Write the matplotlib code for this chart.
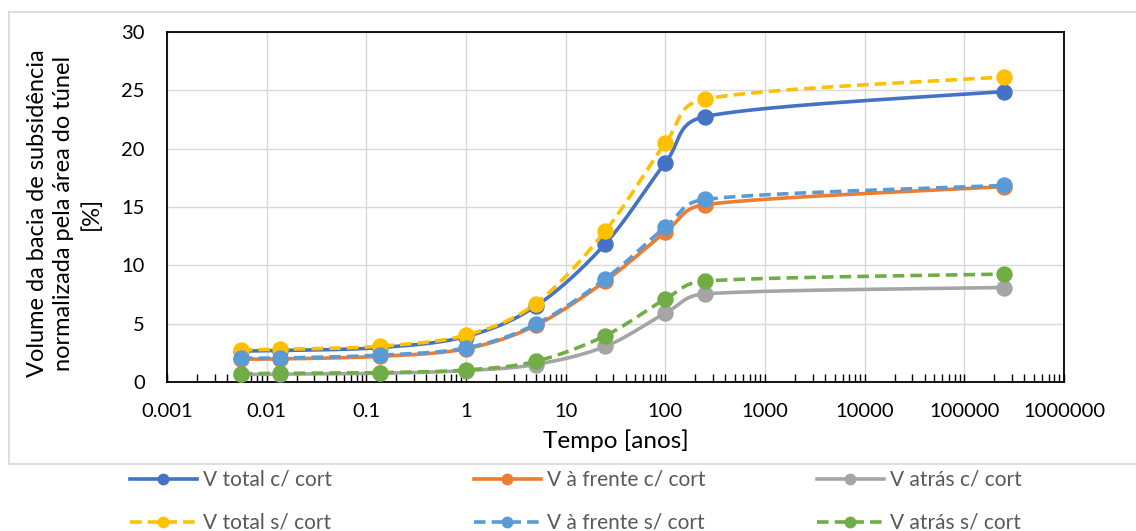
import numpy as np
import matplotlib.pyplot as plt
from matplotlib.lines import Line2D
from matplotlib.ticker import FixedLocator, LogLocator, NullFormatter

plt.rcParams['font.family'] = ['Lato', 'DejaVu Sans']

# tempo em anos (2 d, 5 d, 50 d, 1 a, 5 a, 25 a, 100 a, 250 a, 250000 a)
tempo = [0.0055, 0.0137, 0.137, 1, 5, 25, 100, 250, 250000]

v_total_c = [2.65, 2.7, 2.95, 3.9, 6.5, 11.85, 18.8, 22.75, 24.9]
v_frente_c = [1.97, 1.98, 2.2, 2.85, 4.85, 8.65, 12.85, 15.2, 16.75]
v_atras_c = [0.65, 0.68, 0.75, 0.98, 1.5, 3.05, 5.9, 7.55, 8.1]
v_total_s = [2.78, 2.8, 3.07, 4.02, 6.72, 12.95, 20.48, 24.25, 26.15]
v_frente_s = [2.05, 2.06, 2.3, 2.92, 4.95, 8.85, 13.28, 15.65, 16.85]
v_atras_s = [0.72, 0.74, 0.8, 1.03, 1.77, 3.97, 7.12, 8.65, 9.25]

nomes = ['V total c/ cort', 'V à frente c/ cort', 'V atrás c/ cort',
         'V total s/ cort', 'V à frente s/ cort', 'V atrás s/ cort']
cores = ['#4472C4', '#ED7D31', '#A5A5A5', '#FFC000', '#5B9BD5', '#70AD47']
estilos = ['-', '-', '-', '--', '--', '--']
series = [v_total_c, v_frente_c, v_atras_c, v_total_s, v_frente_s, v_atras_s]

TRACO = (0, (3.2, 1.7))
LW = 2.6

# escala em px usada para suavizar a curva (100 px por década, 350 px para 30 %)
SX, SY = 100.0, 350.0 / 30.0


def suavizar(xs, ys, n=40):
    """Curva de Bezier do tipo Excel passando pelos pontos (x em log)."""
    p = np.column_stack([np.log10(xs) * SX, np.array(ys) * SY])
    m = len(p)
    tang = []
    for i in range(m):
        a = p[max(i - 1, 0)]
        b = p[min(i + 1, m - 1)]
        tang.append((b - a) / 6.0)
    out = []
    for i in range(m - 1):
        p0, p3 = p[i], p[i + 1]
        d = np.hypot(*(p3 - p0))
        t0, t1 = tang[i], tang[i + 1]
        l0, l1 = np.hypot(*t0), np.hypot(*t1)
        if l0 > d / 2:
            t0 = t0 * (d / 2) / l0
        if l1 > d / 2:
            t1 = t1 * (d / 2) / l1
        p1 = p0 + t0
        p2 = p3 - t1
        t = np.linspace(0, 1, n)[:, None]
        seg = ((1 - t) ** 3 * p0 + 3 * (1 - t) ** 2 * t * p1
               + 3 * (1 - t) * t ** 2 * p2 + t ** 3 * p3)
        out.append(seg if i == 0 else seg[1:])
    c = np.vstack(out)
    return 10 ** (c[:, 0] / SX), c[:, 1] / SY


fig = plt.figure(figsize=(11.36, 5.31), dpi=100)
ax = fig.add_axes([167 / 1136, 1 - 382 / 531, (1064 - 167) / 1136, 350 / 531])

for k, (ys, cor, ls) in enumerate(zip(series, cores, estilos)):
    cx, cy = suavizar(tempo, ys)
    if ls == '--':
        ax.plot(cx, cy, color=cor, lw=LW, ls=TRACO, zorder=3 + k,
                dash_capstyle='butt')
    else:
        ax.plot(cx, cy, color=cor, lw=LW, zorder=3 + k)
    ax.plot(tempo, ys, 'o', color=cor, ms=10.8, mec=cor, zorder=3 + k)

ax.set_xscale('log')
ax.set_xlim(0.001, 1000000)
ax.set_ylim(0, 30)
ax.set_yticks(range(0, 31, 5))
ax.xaxis.set_major_locator(FixedLocator([10.0 ** e for e in range(-3, 7)]))
ax.xaxis.set_minor_locator(LogLocator(base=10, subs=np.arange(2, 10), numticks=20))
ax.xaxis.set_minor_formatter(NullFormatter())
ax.set_xticklabels(['0.001', '0.01', '0.1', '1', '10', '100', '1000',
                    '10000', '100000', '1000000'])

ax.grid(True, which='major', color='#D9D9D9', lw=1.0, zorder=0)
ax.set_axisbelow(True)
for s in ax.spines.values():
    s.set_color('black')
    s.set_linewidth(1.3)

ax.tick_params(axis='x', which='major', direction='in', length=6, width=1.0,
               pad=15, labelsize=14.5, colors='black')
ax.tick_params(axis='x', which='minor', direction='in', length=6, width=1.0,
               colors='black')
ax.tick_params(axis='y', which='both', length=0, pad=16, labelsize=14.5,
               colors='black')

ax.set_xlabel('Tempo [anos]', fontsize=17.5, labelpad=7)
ax.set_ylabel('Volume da bacia de subsidência\nnormalizada pela área do túnel\n[%]',
              fontsize=17, linespacing=1.32)
ax.yaxis.set_label_coords(-0.073, 0.483)

# moldura da área do gráfico
borda = dict(color='#D9D9D9', lw=1.2, transform=fig.transFigure)
fig.add_artist(Line2D([9 / 1136, 1.01], [1 - 12 / 531, 1 - 12 / 531], **borda))
fig.add_artist(Line2D([9 / 1136, 9 / 1136], [1 - 12 / 531, 1 - 464 / 531], **borda))
fig.add_artist(Line2D([9 / 1136, 1.01], [1 - 464 / 531, 1 - 464 / 531], **borda))

# legenda em três colunas, duas linhas
colunas = [(0, 3), (1, 4), (2, 5)]
x_col = [130, 474, 817]
for (a, b), xc in zip(colunas, x_col):
    hs = []
    for k in (a, b):
        ls = TRACO if estilos[k] == '--' else '-'
        hs.append(Line2D([], [], color=cores[k], lw=LW, ls=ls, marker='o',
                         ms=7.5, label=nomes[k]))
    fig.legend(handles=hs, loc='upper left', bbox_to_anchor=(xc / 1136, 1 - 470 / 531),
               frameon=False, fontsize=15, labelcolor='#595959', handlelength=3.2,
               handletextpad=0.3, labelspacing=1.1, borderpad=0, borderaxespad=0)

fig.savefig('out.png', dpi=100)
